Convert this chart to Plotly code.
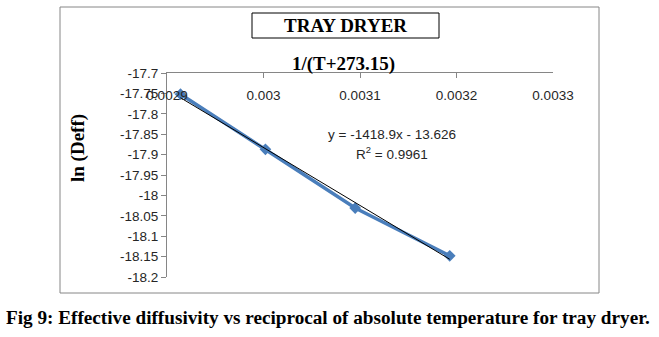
import plotly.graph_objects as go

# Data
x_vals = [0.002914, 0.003002, 0.003095, 0.003193]   # 1/(T+273.15)
y_vals = [-17.752, -17.887, -18.031, -18.148]       # ln(Deff)
slope, intercept = -1418.9, -13.626
x_ticks = [0.0029, 0.003, 0.0031, 0.0032, 0.0033]
y_ticks = [-17.7, -17.75, -17.8, -17.85, -17.9, -17.95, -18, -18.05, -18.1, -18.15, -18.2]

trend_x = [x_vals[0], x_vals[-1]]
trend_y = [slope * v + intercept for v in trend_x]

W, H = 659, 337
L, R, T, B = 167, 553, 73, 277

def px(x):
    return (x - L) / (R - L)

def py(y):
    return (B - y) / (B - T)

fig = go.Figure()
fig.add_trace(go.Scatter(x=x_vals, y=y_vals, mode="lines+markers",
                         line=dict(color="#4A7EBB", width=3.5),
                         marker=dict(symbol="diamond", size=9, color="#4A7EBB"),
                         showlegend=False))
fig.add_trace(go.Scatter(x=trend_x, y=trend_y, mode="lines", xaxis="x2",
                         line=dict(color="black", width=1), showlegend=False))

tickfont = dict(family="Liberation Sans, Arial", size=13.5, color="#262626")
serif = "Liberation Serif, Times New Roman"

def ann(text, x, y, size, family=serif, angle=0, color="black"):
    return dict(text=text, xref="paper", yref="paper", x=px(x), y=py(y),
                xanchor="center", yanchor="middle", showarrow=False,
                textangle=angle, font=dict(family=family, size=size, color=color))

fig.update_layout(
    width=W, height=H,
    margin=dict(l=L, r=W - R, t=T, b=H - B),
    paper_bgcolor="white", plot_bgcolor="white",
    xaxis=dict(range=[0.0029, 0.0033], side="top", tickvals=x_ticks,
               showticklabels=False,
               ticks="inside", ticklen=5, tickcolor="#868686",
               showline=True, linecolor="#868686", linewidth=1,
               showgrid=False, zeroline=False),
    xaxis2=dict(range=[0.0029, 0.0033], overlaying="x", anchor="free",
                position=py(85), side="bottom", tickvals=x_ticks,
                ticktext=[str(v) for v in x_ticks], ticks="",
                tickfont=tickfont, showline=False, showgrid=False, zeroline=False),
    yaxis=dict(range=[-18.2, -17.7], tickvals=y_ticks,
               ticktext=[f"{v:g}" for v in y_ticks],
               ticks="outside", ticklen=5, tickcolor="#868686",
               tickfont=tickfont,
               showline=True, linecolor="#868686", linewidth=1,
               showgrid=False, zeroline=False),
    shapes=[
        dict(type="rect", xref="paper", yref="paper",
             x0=px(60), x1=px(599), y0=py(293), y1=py(7),
             line=dict(color="#868686", width=1), layer="below"),
        dict(type="rect", xref="paper", yref="paper",
             x0=px(252), x1=px(439), y0=py(38), y1=py(13),
             line=dict(color="black", width=1)),
    ],
    annotations=[
        ann("<b>TRAY DRYER</b>", 345, 26, 19),
        ann("<b>1/(T+273.15)</b>", 343, 64, 19),
        ann("<b>ln (Deff)</b>", 78, 148, 19, angle=-90),
        ann(f"y = {slope}x - {abs(intercept)}", 392, 134, 13.5,
            family="Liberation Sans, Arial", color="#262626"),
        ann("R<sup>2</sup> = 0.9961", 392, 153, 13.5,
            family="Liberation Sans, Arial", color="#262626"),
        ann("<b>Fig 9: Effective diffusivity vs reciprocal of absolute temperature for tray dryer.</b>",
            328, 317, 19.2),
    ],
)

fig.write_html("out.html")
